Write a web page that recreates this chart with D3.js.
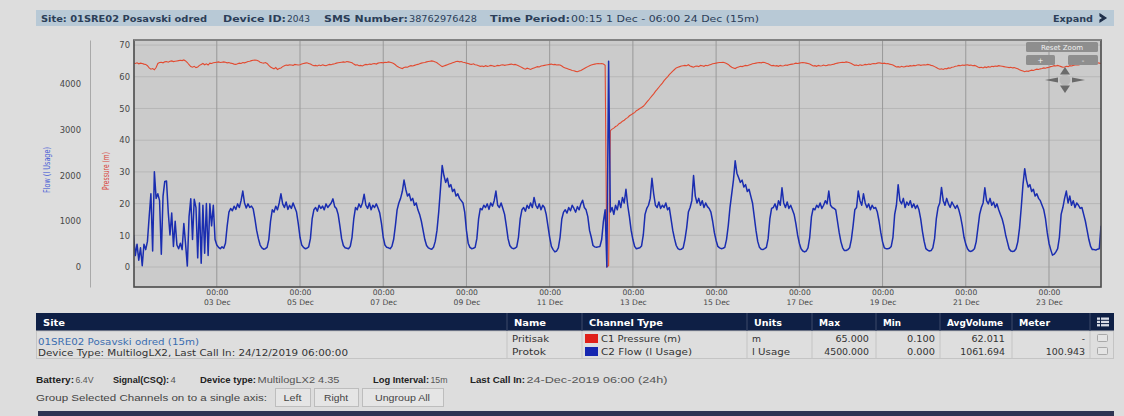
<!DOCTYPE html>
<html>
<head>
<meta charset="utf-8">
<script src="https://cdn.jsdelivr.net/npm/d3@7"></script>
<style>
body { margin: 0; background: #dddddd; }
svg { display: block; font-family: "DejaVu Sans", sans-serif; }
</style>
</head>
<body>
<svg id="chart" width="1124" height="416"></svg>
<script>
// time window shown on the chart (15m logger, hourly readings below)
var startTime = new Date(Date.UTC(2019, 11, 1, 0, 15));
var endTime = new Date(Date.UTC(2019, 11, 24, 6, 0));

var tickDays = [3, 5, 7, 9, 11, 13, 15, 17, 19, 21, 23];
var pressureTicks = [0, 10, 20, 30, 40, 50, 60, 70];
var flowTicks = [0, 1000, 2000, 3000, 4000];

// C2 Flow (l Usage), one value per hour from 1 Dec 00:00
var flow = [
  700,250,500,150,420,30,500,380,560,1100,1600,350,2080,1500,1600,1450,280,1550,1870,1880,1200,700,1180,450,
  1000,480,400,520,380,950,500,20,1100,1490,600,1480,1300,200,1400,80,1350,300,1390,250,1380,900,1350,600,
  480,430,400,440,410,520,900,1200,1280,1230,1330,1260,1380,1300,1450,1660,1400,1290,1380,1300,1330,1270,1050,800,
  620,480,420,390,400,430,600,1000,1250,1200,1330,1250,1400,1600,1380,1300,1420,1260,1350,1280,1400,1300,1200,950,
  650,480,430,400,410,440,620,1050,1250,1300,1220,1350,1280,1330,1250,1380,1300,1350,1400,1490,1320,1280,1150,900,
  620,470,420,410,400,450,650,1050,1300,1250,1380,1300,1400,1590,1350,1280,1400,1250,1350,1300,1380,1290,1180,950,
  650,480,430,420,400,450,600,900,1250,1400,1500,1650,1900,1700,1550,1600,1450,1500,1350,1400,1250,1150,1000,800,
  600,470,420,400,390,430,560,800,1200,1700,2220,2000,1850,1940,1750,1800,1650,1700,1550,1600,1500,1450,1400,1200,
  800,520,430,400,410,430,620,1050,1280,1250,1350,1300,1380,1260,1400,1330,1450,1660,1350,1300,1400,1280,1150,900,
  620,470,420,400,410,440,650,1050,1250,1300,1220,1350,1280,1400,1300,1520,1350,1280,1380,1250,1350,1300,1150,900,
  650,450,380,330,350,420,650,1050,1200,1250,1180,1300,1230,1350,1280,1200,1320,1250,1380,1460,1300,1250,1100,800,
  650,470,440,430,440,450,600,1000,1250,0,4500,1200,1300,1150,1350,1250,1450,1300,1520,1400,1700,1350,1100,800,
  600,450,400,410,420,460,700,1150,1280,1350,1500,1940,1600,1350,1300,1420,1280,1350,1300,1400,1250,1300,1050,800,
  620,470,400,380,390,420,600,850,1200,1300,1450,2000,1550,1400,1500,1350,1450,1300,1400,1320,1280,1200,1000,750,
  580,450,420,400,410,430,600,900,1300,1600,1900,2320,2050,1950,1850,1900,1750,1800,1650,1700,1550,1400,1100,800,
  560,430,390,380,400,430,620,1050,1280,1300,1380,1250,1450,1350,1730,1400,1300,1420,1280,1350,1250,1150,950,700,
  520,400,350,330,350,420,650,1100,1280,1250,1350,1300,1400,1280,1350,1450,1380,1660,1350,1300,1280,1250,1000,750,
  550,420,360,360,380,420,600,900,1250,1300,1660,1450,1350,1600,1400,1300,1380,1250,1350,1280,1300,1200,1000,750,
  550,420,400,400,410,450,650,1150,1350,1800,1450,1380,1500,1300,1420,1350,1450,1300,1380,1280,1350,1250,1050,780,
  560,400,370,350,360,420,620,1050,1300,1400,1740,1450,1350,1500,1380,1300,1420,1350,1280,1350,1250,1100,900,650,
  500,400,350,340,360,400,550,850,1150,1300,1400,1730,1450,1380,1500,1350,1420,1300,1380,1250,1150,1050,900,700,
  550,400,350,340,350,400,550,850,1300,1800,2150,1900,1750,1800,1650,1700,1550,1600,1500,1450,1350,1250,1050,750,
  520,380,260,280,330,400,650,1150,1300,1500,1660,1400,1550,1350,1450,1300,1400,1350,1280,1300,1150,1000,800,600,
  450,380,380,370,390,400,900
];

// C1 Pressure (m), one value per hour from 1 Dec 00:00
var pressure = [
  64.3,64.2,64.4,64.1,64.3,64.2,64.0,63.9,63.5,62.8,62.4,62.6,62.2,62.9,64.2,64.5,64.6,64.4,64.7,64.8,64.6,64.9,65.0,64.8,
  64.9,65.0,65.1,65.2,65.1,65.3,65.0,64.5,63.8,63.2,63.0,63.3,62.9,63.1,63.6,63.9,64.2,63.8,64.1,63.7,64.3,64.2,64.4,64.5,
  64.6,64.7,64.5,64.6,64.7,64.6,64.4,64.5,64.3,64.2,64.0,63.9,64.1,64.3,64.2,64.5,64.4,64.6,64.8,64.9,65.1,65.2,65.3,65.2,
  65.0,64.6,64.4,64.3,64.5,64.2,63.6,63.1,62.8,62.5,62.9,62.3,62.6,62.8,63.2,63.5,63.7,63.6,63.8,63.7,63.6,63.9,63.8,63.7,
  63.8,64.0,64.2,64.3,64.4,64.2,64.0,63.7,63.5,63.6,63.4,63.7,63.5,63.8,63.6,63.5,63.7,63.9,63.8,64.0,64.1,64.3,64.4,64.5,
  64.6,64.7,64.6,64.8,64.7,64.6,64.4,64.0,63.7,63.8,63.5,63.6,63.4,63.7,63.9,63.8,64.0,63.9,64.1,64.2,64.0,64.3,64.4,64.5,
  64.4,64.6,64.5,64.7,64.6,64.4,64.2,63.8,63.3,63.0,62.8,62.6,62.9,63.1,63.0,63.3,63.5,63.4,63.6,63.8,63.9,64.1,64.3,64.4,
  64.5,64.7,64.8,64.9,65.0,64.9,64.7,64.4,64.0,63.6,63.2,63.4,63.6,63.8,64.0,64.2,64.4,64.6,64.8,64.9,64.7,64.8,64.6,64.5,
  64.3,64.2,64.0,63.9,64.1,63.8,63.7,63.5,63.3,63.4,63.2,63.5,63.3,63.4,63.6,63.5,63.3,63.4,63.6,63.5,63.7,63.8,63.6,63.7,
  63.8,63.9,64.0,63.8,63.9,63.7,63.5,63.2,62.9,62.6,62.4,62.7,62.5,62.3,62.6,62.8,63.0,63.2,63.1,63.4,63.5,63.6,63.7,63.8,
  63.9,64.0,63.8,63.9,63.7,63.8,63.7,63.4,63.0,62.8,62.6,62.4,62.2,62.0,61.9,61.7,61.6,61.8,62.0,62.3,62.6,62.9,63.2,63.5,
  63.7,63.9,64.0,64.1,64.2,64.1,64.2,64.0,63.6,0.1,0.4,43.0,43.5,43.8,44.3,44.6,45.2,45.5,46.0,46.3,46.8,47.1,47.7,48.0,
  48.4,48.7,49.3,49.6,50.0,50.3,50.7,51.3,52.0,52.6,53.3,54.0,54.6,55.4,56.0,56.7,57.4,58.0,58.8,59.4,60.0,60.7,61.2,61.8,
  62.3,62.8,63.0,63.2,63.4,63.5,63.6,63.5,63.8,63.4,63.2,63.0,63.3,63.4,63.2,63.6,63.5,63.3,63.6,63.5,63.7,63.9,64.1,64.2,
  64.3,64.4,64.5,64.5,64.6,64.4,64.2,63.9,63.4,63.0,62.8,62.6,62.9,63.1,63.3,63.2,63.4,63.6,63.5,63.7,63.9,64.1,64.2,64.3,
  64.4,64.5,64.4,64.6,64.5,64.3,64.1,63.8,63.5,63.6,63.4,63.5,63.3,63.6,63.4,63.5,63.7,63.6,63.8,63.9,64.0,64.1,64.3,64.2,
  64.3,64.4,64.5,64.4,64.3,64.2,64.0,63.7,63.4,63.5,63.3,63.6,63.4,63.5,63.7,63.5,63.6,63.8,63.7,63.9,64.0,64.2,64.3,64.4,
  64.5,64.6,64.5,64.7,64.6,64.4,64.2,63.9,63.6,63.7,63.5,63.8,63.6,63.7,63.9,63.8,64.0,63.9,64.1,64.2,64.1,64.3,64.4,64.3,
  64.2,64.3,64.1,64.2,64.0,63.9,63.7,63.4,63.1,63.2,63.0,63.3,63.1,63.2,63.4,63.3,63.5,63.4,63.6,63.5,63.7,63.8,63.6,63.7,
  63.8,63.7,63.9,63.8,63.6,63.5,63.2,62.9,62.6,62.4,62.5,62.3,62.6,62.5,62.8,62.7,63.0,63.1,63.3,63.4,63.6,63.5,63.7,63.6,
  63.7,63.8,63.6,63.7,63.5,63.6,63.4,63.1,62.9,63.0,62.8,63.1,62.9,63.2,63.0,63.3,63.2,63.4,63.3,63.5,63.4,63.3,63.2,63.1,
  63.0,62.9,63.0,62.8,62.9,62.7,62.5,62.2,62.0,61.8,61.6,61.8,61.7,61.9,62.1,62.0,62.2,62.4,62.3,62.5,62.6,62.8,62.7,62.9,
  63.0,63.2,63.3,63.5,63.4,63.6,63.4,63.2,63.0,63.1,63.3,63.2,63.5,63.4,63.6,63.7,63.8,63.7,63.9,64.0,64.1,64.0,64.2,64.3,
  64.2,64.4,64.3,64.5,64.4,64.3,64.2
];

// channel table
var tableHeaders = ["Site", "Name", "Channel Type", "Units", "Max", "Min", "AvgVolume", "Meter"];
var channelNames = ["Pritisak", "Protok"];
var channelTypes = ["C1 Pressure (m)", "C2 Flow (l Usage)"];
var channelColors = ["#e0201a", "#1526b0"];
var channelUnits = ["m", "l Usage"];
var maxValues = ["65.000", "4500.000"];
var minValues = ["0.100", "0.000"];
var avgValues = ["62.011", "1061.694"];
var meterValues = ["-", "100.943"];

var svg = d3.select("#chart");

// text helper: the screenshot is stretched sideways, so widths are fixed with textLength
function txt(x, y, s, len, o) {
  o = o || {};
  var t = svg.append("text").attr("x", x).attr("y", y).text(s)
    .attr("font-size", o.size || "9px").attr("fill", o.fill || "#333");
  if (o.family) t.attr("font-family", o.family);
  if (o.bold) t.attr("font-weight", "bold");
  if (o.anchor) t.attr("text-anchor", o.anchor);
  if (len) t.attr("textLength", len).attr("lengthAdjust", "spacingAndGlyphs");
  return t;
}

// ---- top info bar ----
svg.append("rect").attr("x", 36).attr("y", 10).attr("width", 1078).attr("height", 16).attr("fill", "#b8c9d6");
var hdr = {size: "9.3px", fill: "#2c3e58"};
txt(41, 21.5, "Site: 01SRE02 Posavski odred", 166, {size: hdr.size, fill: hdr.fill, bold: true});
txt(223, 21.5, "Device ID:", 63, {size: hdr.size, fill: hdr.fill, bold: true});
txt(287, 21.5, "2043", 23, hdr);
txt(324, 21.5, "SMS Number:", 84, {size: hdr.size, fill: hdr.fill, bold: true});
txt(409, 21.5, "38762976428", 68, hdr);
txt(490, 21.5, "Time Period:", 80, {size: hdr.size, fill: hdr.fill, bold: true});
txt(571, 21.5, "00:15 1 Dec - 06:00 24 Dec (15m)", 188, hdr);
txt(1053, 21.5, "Expand", 40, {size: hdr.size, fill: hdr.fill, bold: true});
svg.append("path").attr("d", "M1100,14 L1106,18 L1100,22 L1100,20 L1103,18 L1100,16 Z")
  .attr("fill", "#1f2f4a").attr("stroke", "#1f2f4a").attr("stroke-width", 1.2);

// ---- scales ----
var x = d3.scaleUtc().domain([startTime, endTime]).range([134, 1101]);
var yP = d3.scaleLinear().domain([-6.3, 71.6]).range([287, 40]);
var yF = d3.scaleLinear().domain([-437, 4962]).range([287, 40]);

var tickDates = tickDays.map(function(d) { return new Date(Date.UTC(2019, 11, d)); });
function hourTime(i) { return new Date(Date.UTC(2019, 11, 1, i)); }

// plot background + grid
svg.append("rect").attr("x", 134).attr("y", 40).attr("width", 967).attr("height", 247).attr("fill", "#cbcbcb");

svg.append("g").selectAll("line").data(pressureTicks).enter().append("line")
  .attr("x1", 134).attr("x2", 1101)
  .attr("y1", function(d) { return yP(d); }).attr("y2", function(d) { return yP(d); })
  .attr("stroke", "#b7b7b7").attr("stroke-width", 1);

svg.append("g").selectAll("line").data(tickDates).enter().append("line")
  .attr("x1", function(d) { return x(d); }).attr("x2", function(d) { return x(d); })
  .attr("y1", 40).attr("y2", 287)
  .attr("stroke", "#999999").attr("stroke-width", 1);

svg.append("clipPath").attr("id", "plotclip").append("rect")
  .attr("x", 134).attr("y", 40).attr("width", 967).attr("height", 247);

var pressureLine = d3.line()
  .x(function(d, i) { return x(hourTime(i)); })
  .y(function(d) { return yP(d); });
var flowLine = d3.line()
  .x(function(d, i) { return x(hourTime(i)); })
  .y(function(d) { return yF(d); });

var lines = svg.append("g").attr("clip-path", "url(#plotclip)");
lines.append("path").datum(pressure).attr("d", pressureLine)
  .attr("fill", "none").attr("stroke", "#e24a30").attr("stroke-width", 1.1);
lines.append("path").datum(flow).attr("d", flowLine)
  .attr("fill", "none").attr("stroke", "#1a2db0").attr("stroke-width", 1.5)
  .attr("stroke-linejoin", "round");

// plot frame
svg.append("rect").attr("x", 134).attr("y", 40).attr("width", 967).attr("height", 247)
  .attr("fill", "none").attr("stroke", "#4a4a4a").attr("stroke-width", 1.6);
svg.append("line").attr("x1", 134).attr("x2", 1101).attr("y1", 40).attr("y2", 40)
  .attr("stroke", "#8d8d8d").attr("stroke-width", 1.6);

// ---- axes ----
var pAxis = svg.append("g").attr("transform", "translate(132,0)")
  .call(d3.axisLeft(yP).tickValues(pressureTicks).tickSize(0).tickPadding(2));
pAxis.select(".domain").remove();

var fAxis = svg.append("g").attr("transform", "translate(90,0)")
  .call(d3.axisLeft(yF).tickValues(flowTicks).tickFormat(d3.format("d"))
    .tickSize(0).tickSizeOuter(0).tickPadding(9));
fAxis.select(".domain").attr("stroke", "#a9a9a9");

[pAxis, fAxis].forEach(function(a) {
  a.attr("font-family", "DejaVu Sans");
  a.selectAll("text").attr("font-size", "8.4px").attr("fill", "#474747");
});

var xAxis = svg.append("g").attr("transform", "translate(0,287)")
  .call(d3.axisBottom(x).tickValues(tickDates).tickSize(0).tickPadding(3)
    .tickFormat(d3.utcFormat("%H:%M")));
xAxis.attr("font-family", "DejaVu Sans");
xAxis.select(".domain").remove();
xAxis.selectAll(".tick text").attr("font-size", "7.6px").attr("fill", "#474747");
xAxis.selectAll(".tick").append("text")
  .attr("y", 12.5).attr("dy", "0.71em").attr("text-anchor", "middle")
  .attr("font-size", "7.6px").attr("fill", "#474747")
  .text(d3.utcFormat("%d Dec"));

svg.append("text").attr("transform", "translate(50,170) rotate(-90)")
  .attr("text-anchor", "middle").attr("font-size", "8.5px").attr("fill", "#4a5fd6")
  .attr("textLength", 46).attr("lengthAdjust", "spacingAndGlyphs").text("Flow (l Usage)");
svg.append("text").attr("transform", "translate(109,171) rotate(-90)")
  .attr("text-anchor", "middle").attr("font-size", "8.5px").attr("fill", "#d8453a")
  .attr("textLength", 38).attr("lengthAdjust", "spacingAndGlyphs").text("Pressure (m)");

// ---- zoom controls ----
var zoomBtns = [
  {x: 1026, y: 42, w: 72, h: 10, label: "Reset Zoom", len: 42},
  {x: 1026, y: 55, w: 29, h: 10, label: "+", len: 0},
  {x: 1068, y: 55, w: 30, h: 10, label: "-", len: 0}
];
zoomBtns.forEach(function(b) {
  svg.append("rect").attr("x", b.x).attr("y", b.y).attr("width", b.w).attr("height", b.h)
    .attr("rx", 1.5).attr("fill", "#8e8e8e");
  txt(b.x + b.w / 2, b.y + b.h / 2 + 2.7, b.label, b.len, {size: "7px", fill: "#f2f2f2", anchor: "middle"});
});
var nav = svg.append("g").attr("fill", "#6a6a6a");
nav.append("circle").attr("cx", 1065).attr("cy", 80).attr("r", 5.5).attr("fill", "#b9b9b9");
nav.append("path").attr("d", "M1065,67 L1070,74.5 L1060,74.5 Z");
nav.append("path").attr("d", "M1065,93 L1070,85.5 L1060,85.5 Z");
nav.append("path").attr("d", "M1045,80 L1058,77.5 L1058,82.5 Z");
nav.append("path").attr("d", "M1085,80 L1072,77.5 L1072,82.5 Z");

// ---- channel table ----
var colX = [36, 507, 582, 747, 812, 876, 940, 1012, 1090, 1114];
var headerLens = [22, 32, 74, 28, 21, 18, 56, 31];
svg.append("rect").attr("x", 36).attr("y", 313).attr("width", 1078).attr("height", 18).attr("fill", "#0e1f45");
svg.append("rect").attr("x", 36.5).attr("y", 331).attr("width", 1077).attr("height", 27.5)
  .attr("fill", "#dedede").attr("stroke", "#c4c4c4");
colX.slice(1, -1).forEach(function(cx) {
  svg.append("line").attr("x1", cx).attr("x2", cx).attr("y1", 313).attr("y2", 331).attr("stroke", "#3c4b6b");
  svg.append("line").attr("x1", cx).attr("x2", cx).attr("y1", 331).attr("y2", 358.5).attr("stroke", "#c4c4c4");
});
tableHeaders.forEach(function(h, i) {
  txt(colX[i] + 7, 325.5, h, headerLens[i], {size: "9px", bold: true, fill: "#ffffff"});
});
// list icon in the last header cell
var icon = svg.append("g").attr("fill", "#d8dce6");
[0, 1, 2].forEach(function(r) {
  icon.append("rect").attr("x", 1097).attr("y", 317.5 + r * 3.3).attr("width", 3).attr("height", 2.3);
  icon.append("rect").attr("x", 1101).attr("y", 317.5 + r * 3.3).attr("width", 8).attr("height", 2.3);
});

txt(38, 344.5, "01SRE02 Posavski odred (15m)", 161, {fill: "#3a6db0"});
txt(38, 356, "Device Type: MultilogLX2, Last Call In: 24/12/2019 06:00:00", 310);

var rowY = [342, 355];
var nameLens = [37, 34], typeLens = [80, 91], unitLens = [9, 38];
channelNames.forEach(function(n, i) {
  var y = rowY[i];
  txt(512, y, n, nameLens[i]);
  svg.append("rect").attr("x", 585).attr("y", y - 8).attr("width", 13).attr("height", 9).attr("fill", channelColors[i]);
  txt(601, y, channelTypes[i], typeLens[i]);
  txt(752, y, channelUnits[i], unitLens[i]);
  [[maxValues, 869], [minValues, 935], [avgValues, 1005], [meterValues, 1085]].forEach(function(c) {
    var s = c[0][i];
    txt(c[1], y, s, s.length > 1 ? s.length * 5.6 : 0, {anchor: "end"});
  });
  svg.append("rect").attr("x", 1097.5).attr("y", y - 7.5).attr("width", 10).attr("height", 7)
    .attr("rx", 1).attr("fill", "#e4e4e4").attr("stroke", "#a9a9a9");
});

// ---- device status line (narrower face in the screenshot) ----
var statusFont = "Liberation Sans";
var statusParts = [
  {x: 36, label: "Battery:", ll: 38, value: "6.4V", vl: 18},
  {x: 113, label: "Signal(CSQ):", ll: 56, value: "4", vl: 0},
  {x: 200, label: "Device type:", ll: 56, value: "MultilogLX2 4.35", vl: 82},
  {x: 373, label: "Log Interval:", ll: 56, value: "15m", vl: 17},
  {x: 470, label: "Last Call In:", ll: 55, value: "24-Dec-2019 06:00 (24h)", vl: 141}
];
statusParts.forEach(function(p) {
  txt(p.x, 382.5, p.label, p.ll, {bold: true, size: "9.5px", family: statusFont, fill: "#222"});
  txt(p.x + p.ll + 1.5, 382.5, p.value, p.vl, {size: "9.5px", family: statusFont, fill: "#555"});
});

txt(36, 400.5, "Group Selected Channels on to a single axis:", 231, {fill: "#444", size: "9.5px", family: statusFont});
var groupBtns = [
  {x: 275, w: 35, label: "Left", len: 18},
  {x: 314, w: 44, label: "Right", len: 24},
  {x: 362, w: 81, label: "Ungroup All", len: 55}
];
groupBtns.forEach(function(b) {
  svg.append("rect").attr("x", b.x + 0.5).attr("y", 388.5).attr("width", b.w).attr("height", 18)
    .attr("fill", "#e5e5e5").attr("stroke", "#bdbdbd");
  txt(b.x + b.w / 2, 400.5, b.label, b.len, {fill: "#444", anchor: "middle", size: "9.5px", family: statusFont});
});

// start of the next panel
svg.append("rect").attr("x", 38).attr("y", 411).attr("width", 1076).attr("height", 5).attr("fill", "#2e3452");
</script>
</body>
</html>
